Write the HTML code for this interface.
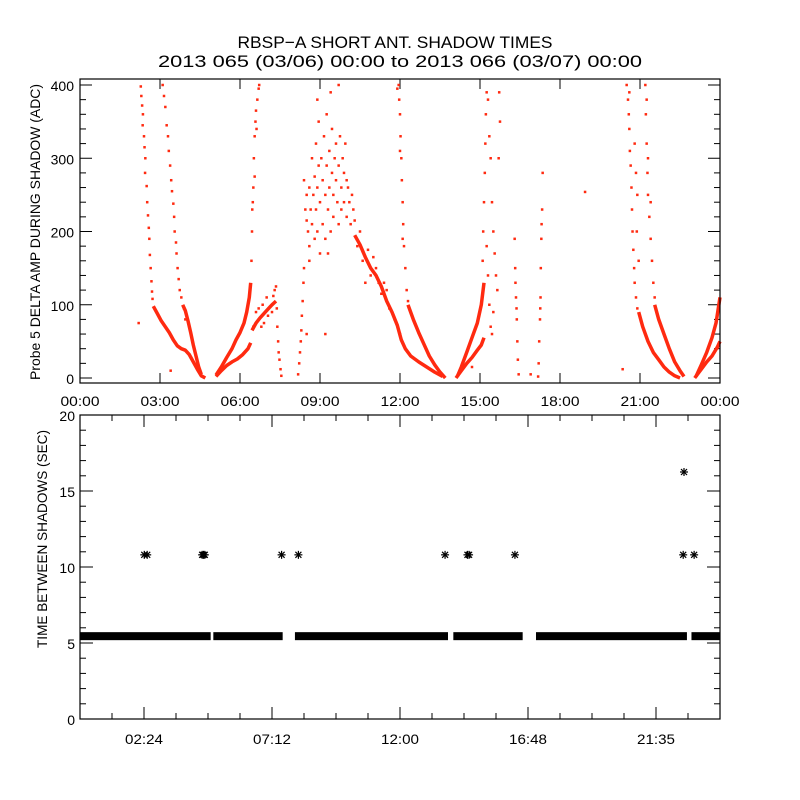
<!DOCTYPE html>
<html><head><meta charset="utf-8"><style>
html,body{margin:0;padding:0;background:#fff}
svg{display:block}
text{font-family:"Liberation Sans",sans-serif;fill:#000}
</style></head><body>
<svg id="chart" width="800" height="800" viewBox="0 0 800 800" xmlns="http://www.w3.org/2000/svg">
<rect x="0" y="0" width="800" height="800" fill="#fff"/>
<text x="395" y="48" font-size="17" text-anchor="middle" textLength="315" lengthAdjust="spacingAndGlyphs">RBSP−A SHORT ANT. SHADOW TIMES</text>
<text x="400" y="67" font-size="17" text-anchor="middle" textLength="484" lengthAdjust="spacingAndGlyphs">2013 065 (03/06) 00:00 to 2013 066 (03/07) 00:00</text>
<text transform="translate(40,232) rotate(-90)" font-size="14" text-anchor="middle" textLength="296" lengthAdjust="spacingAndGlyphs">Probe 5 DELTA AMP DURING SHADOW (ADC)</text>
<text transform="translate(47,539) rotate(-90)" font-size="14" text-anchor="middle" textLength="218" lengthAdjust="spacingAndGlyphs">TIME BETWEEN SHADOWS (SEC)</text>
<g id="top-ticks"></g><g id="top-data"></g>
<g id="bot-ticks"></g><g id="bot-data"></g>
<rect x="80" y="79" width="640" height="304" fill="none" stroke="#000" stroke-width="1.2"/>
<rect x="80" y="415" width="640" height="304" fill="none" stroke="#000" stroke-width="1.2"/>
</svg>
<script>
// ---- top panel data ----
const topXTickHours = [0,3,6,9,12,15,18,21,24];
const topXTickLabels = ["00:00","03:00","06:00","09:00","12:00","15:00","18:00","21:00","00:00"];
const topYTicks = [0,100,200,300,400];
const topYTickLabels = ["0","100","200","300","400"];
const bandA = [[2.75,98],[2.9,88],[3.05,78],[3.2,70],[3.35,62],[3.5,52],[3.65,44],[3.8,40],[3.95,38],[4.1,32],[4.25,22],[4.4,12],[4.55,3],[4.7,0]];
const bandB = [[3.85,100],[3.95,92],[4.05,78],[4.15,62],[4.25,45],[4.35,30],[4.45,15],[4.55,5]];
const bandCLow = [[5.1,2],[5.3,10],[5.5,17],[5.7,22],[5.9,26],[6.1,32],[6.3,40],[6.4,48]];
const bandCUp = [[5.1,4],[5.3,15],[5.5,28],[5.7,40],[5.85,52],[6.0,62],[6.15,75],[6.25,90],[6.35,110],[6.4,130]];
const bandD = [[6.45,65],[6.6,75],[6.75,82],[6.95,90],[7.1,96],[7.2,100],[7.35,105]];
const bandTail = [[10.3,195],[10.5,182],[10.7,165],[10.9,150],[11.1,140],[11.3,125],[11.5,105],[11.7,90],[11.9,72],[12.05,52],[12.2,40],[12.4,30],[12.7,22],[13.0,15],[13.3,8],[13.6,2]];
const bandK = [[12.3,100],[12.5,80],[12.7,62],[12.9,46],[13.1,30],[13.3,18],[13.5,8],[13.7,0]];
const band14Low = [[14.1,0],[14.3,10],[14.5,20],[14.7,28],[14.9,38],[15.05,45],[15.15,55]];
const band14Up = [[14.15,2],[14.3,15],[14.5,35],[14.7,55],[14.9,75],[15.05,100],[15.15,130]];
const band21a = [[20.95,90],[21.1,70],[21.3,50],[21.5,35],[21.7,25],[21.9,15],[22.1,8],[22.3,3],[22.5,0]];
const band21b = [[21.55,100],[21.7,80],[21.9,60],[22.1,40],[22.3,22],[22.5,10],[22.65,2]];
const band23Low = [[23.05,0],[23.3,12],[23.5,22],[23.7,30],[23.9,42],[24,50]];
const band23Up = [[23.1,2],[23.3,18],[23.5,35],[23.7,55],[23.85,75],[24,110]];
const dotsA = [[2.28,398],[2.3,385],[2.33,372],[2.36,360],[2.35,345],[2.4,330],[2.42,315],[2.45,300],[2.44,280],[2.5,262],[2.52,240],[2.55,222],[2.58,205],[2.6,190],[2.62,168],[2.65,150],[2.68,132],[2.7,118],[2.72,108],[2.2,75]];
const dotsB = [[3.1,400],[3.15,385],[3.2,370],[3.25,345],[3.3,330],[3.33,310],[3.38,290],[3.42,270],[3.45,255],[3.5,238],[3.53,220],[3.55,200],[3.6,185],[3.62,170],[3.66,150],[3.7,135],[3.74,120],[3.8,110],[3.9,95],[3.95,80],[3.4,10]];
const dotsC = [[6.43,160],[6.45,200],[6.46,230],[6.5,260],[6.52,300],[6.55,330],[6.58,350],[6.6,365],[6.65,380],[6.7,395],[6.55,275],[6.62,340],[6.72,400],[6.48,240]];
const dotsD = [[6.5,70],[6.6,90],[6.8,70],[7.0,110],[7.2,90],[7.3,120],[6.7,95],[6.9,75],[7.05,85],[7.25,112],[6.85,100]];
const dotsE = [[7.35,125],[7.38,95],[7.4,70],[7.43,50],[7.45,35],[7.48,25],[7.52,12],[7.55,3]];
const dotsF = [[8.18,5],[8.22,20],[8.25,35],[8.28,50],[8.3,65],[8.32,85],[8.35,105],[8.38,130],[8.4,150],[8.5,60]];
const dotsCloud = [[8.4,270],[8.45,230],[8.5,215],[8.5,250],[8.55,200],[8.6,260],[8.6,180],[8.65,230],[8.7,300],[8.7,210],[8.75,250],[8.8,275],[8.8,190],[8.85,320],[8.85,230],[8.9,260],[8.9,200],[8.95,350],[8.95,290],[9.0,240],[9.0,170],[9.05,300],[9.1,270],[9.1,210],[9.15,330],[9.2,250],[9.2,190],[9.25,360],[9.25,290],[9.3,230],[9.35,310],[9.35,260],[9.4,200],[9.45,340],[9.45,280],[9.5,250],[9.5,220],[9.55,300],[9.6,270],[9.6,320],[9.65,240],[9.7,290],[9.7,210],[9.75,330],[9.8,260],[9.8,230],[9.85,300],[9.9,280],[9.9,240],[9.95,320],[10.0,270],[10.0,220],[10.05,260],[10.1,240],[10.15,210],[10.2,250],[10.25,230],[9.4,390],[9.7,400],[8.9,380],[9.3,170],[8.6,160],[10.3,215],[10.4,180],[10.5,200],[10.6,160],[10.8,175],[10.9,140],[11.0,165],[11.1,150],[11.2,130],[11.3,115],[11.4,130],[11.6,95],[11.8,80],[12.0,60],[10.7,130],[11.5,120],[9.2,60]];
const dotsK = [[11.95,400],[11.97,380],[12.0,360],[12.02,330],[12.05,300],[12.07,270],[12.1,240],[12.12,210],[12.15,180],[12.2,150],[12.25,120],[12.3,105],[11.9,395],[12.0,310],[12.1,190]];
const dots14 = [[15.1,160],[15.12,200],[15.15,240],[15.18,280],[15.2,320],[15.22,360],[15.25,390],[15.3,380],[15.35,330],[15.4,300],[15.45,240],[15.5,200],[15.55,170],[15.6,140],[15.65,120],[15.7,300],[15.75,350],[15.72,390],[15.3,140],[15.35,100],[15.4,70],[15.25,180],[15.5,90],[15.45,60],[14.7,15]];
const dotsLines = [[16.3,190],[16.32,150],[16.35,110],[16.38,80],[16.4,50],[16.42,25],[16.45,5],[16.33,130],[16.37,95],[17.35,280],[17.33,230],[17.3,190],[17.28,150],[17.27,110],[17.25,80],[17.22,50],[17.2,20],[17.18,2],[17.31,210],[17.26,95],[18.94,254],[20.35,12],[16.9,5]];
const dots21 = [[20.5,400],[20.55,380],[20.58,360],[20.6,340],[20.62,310],[20.65,290],[20.68,260],[20.7,230],[20.72,200],[20.75,175],[20.78,150],[20.8,130],[20.85,110],[20.9,95],[20.85,280],[20.9,250],[20.88,200],[20.95,160],[20.6,390],[20.8,320],[21.2,400],[21.22,360],[21.25,320],[21.28,280],[21.3,250],[21.35,220],[21.4,190],[21.45,160],[21.5,130],[21.55,110],[21.25,380],[21.4,240],[21.3,300]];

// ---- bottom panel data ----
const botXTickHours = [2.4,7.2,12,16.8,21.6];
const botXTickLabels = ["02:24","07:12","12:00","16:48","21:35"];
const botYTicks = [0,5,10,15,20];
const botYTickLabels = ["0","5","10","15","20"];
const bandStarts = [0.0,5.0,8.06,14.0,17.1,22.93];
const bandEnds = [4.9,7.6,13.8,16.6,22.76,24.0];
const bandValue = 5.45;
const outlierHours = [2.41,2.52,4.58,4.63,4.68,7.56,8.19,13.69,14.53,14.59,16.31,22.62,23.03,22.65];
const outlierValues = [10.8,10.8,10.8,10.8,10.8,10.8,10.8,10.8,10.8,10.8,10.8,10.8,10.8,16.25];

const NS = "http://www.w3.org/2000/svg";
const X0 = 80, X1 = 720;
const xScale = h => X0 + h * (X1 - X0) / 24;
const tY = v => 378 - v * 0.7325;
const bY = v => 719 - v * 15.2;
const RED = "#ff2a10";
function mk(tag, attrs, parent) {
  const e = document.createElementNS(NS, tag);
  for (const k in attrs) e.setAttribute(k, attrs[k]);
  parent.appendChild(e);
  return e;
}
const tt = document.getElementById("top-ticks");
const td = document.getElementById("top-data");
const bt = document.getElementById("bot-ticks");
const bd = document.getElementById("bot-data");

topXTickHours.forEach((h, i) => {
  const x = xScale(h);
  mk("line", {x1:x, y1:383, x2:x, y2:373, stroke:"#000"}, tt);
  mk("line", {x1:x, y1:79, x2:x, y2:89, stroke:"#000"}, tt);
  const t = mk("text", {x:x, y:406, "font-size":14, "text-anchor":"middle", textLength:39, lengthAdjust:"spacingAndGlyphs"}, tt);
  t.textContent = topXTickLabels[i];
  
  
});
for (let v = 0; v <= 400; v += 20) {
  const y = tY(v), L = (v % 100 === 0) ? 12 : 6;
  mk("line", {x1:80, y1:y, x2:80 + L, y2:y, stroke:"#000"}, tt);
  mk("line", {x1:720, y1:y, x2:720 - L, y2:y, stroke:"#000"}, tt);
}
topYTicks.forEach((v, i) => {
  const t = mk("text", {x:74, y:tY(v) + 6, "font-size":14, "text-anchor":"end"}, tt);
  t.textContent = topYTickLabels[i];
  
  
});

const bands = [bandA, bandB, bandCLow, bandCUp, bandD, bandTail, bandK, band14Low, band14Up, band21a, band21b, band23Low, band23Up];
bands.forEach(b => {
  const pts = b.map(p => xScale(p[0]).toFixed(1) + "," + tY(p[1]).toFixed(1)).join(" ");
  const pl = mk("polyline", {points:pts, fill:"none", stroke:RED, "stroke-width":3.5, "stroke-linejoin":"round"}, td);
  
  
});
const dotSets = [dotsA, dotsB, dotsC, dotsD, dotsE, dotsF, dotsCloud, dotsK, dots14, dotsLines, dots21];
dotSets.forEach(s => s.forEach(p => {
  const r = mk("rect", {x:xScale(p[0]) - 1.25, y:tY(p[1]) - 1.25, width:2.5, height:2.5, fill:RED}, td);
  
  
}));

for (let k = 0; k <= 20; k++) {
  const h = k * 1.2, x = xScale(h);
  const major = Math.abs(((h - 2.4) / 4.8) - Math.round((h - 2.4) / 4.8)) < 1e-6;
  const L = major ? 12 : 6;
  mk("line", {x1:x, y1:719, x2:x, y2:719 - L, stroke:"#000"}, bt);
  mk("line", {x1:x, y1:415, x2:x, y2:415 + L, stroke:"#000"}, bt);
}
botXTickHours.forEach((h, i) => {
  const t = mk("text", {x:xScale(h), y:744, "font-size":14, "text-anchor":"middle", textLength:38, lengthAdjust:"spacingAndGlyphs"}, bt);
  t.textContent = botXTickLabels[i];
  
  
});
for (let v = 0; v <= 20; v++) {
  const y = bY(v), L = (v % 5 === 0) ? 13 : 6;
  mk("line", {x1:80, y1:y, x2:80 + L, y2:y, stroke:"#000"}, bt);
  mk("line", {x1:720, y1:y, x2:720 - L, y2:y, stroke:"#000"}, bt);
}
botYTicks.forEach((v, i) => {
  const t = mk("text", {x:75, y:bY(v) + 6, "font-size":14, "text-anchor":"end"}, bt);
  t.textContent = botYTickLabels[i];
  
  
});

bandStarts.forEach((s, i) => {
  const x0 = xScale(s), x1 = xScale(bandEnds[i]);
  const r = mk("rect", {x:x0, y:bY(bandValue) - 4, width:x1 - x0, height:8, fill:"#000"}, bd);
  
  
});
function asterisk(cx, cy, parent) {
  const g = mk("g", {stroke:"#000", "stroke-width":1.2}, parent);
  
  
  const s = 4;
  mk("line", {x1:cx - s, y1:cy, x2:cx + s, y2:cy}, g);
  mk("line", {x1:cx, y1:cy - s, x2:cx, y2:cy + s}, g);
  mk("line", {x1:cx - 3, y1:cy - 3, x2:cx + 3, y2:cy + 3}, g);
  mk("line", {x1:cx - 3, y1:cy + 3, x2:cx + 3, y2:cy - 3}, g);
}
outlierHours.forEach((h, i) => asterisk(xScale(h), bY(outlierValues[i]), bd));
</script>
</body></html>
